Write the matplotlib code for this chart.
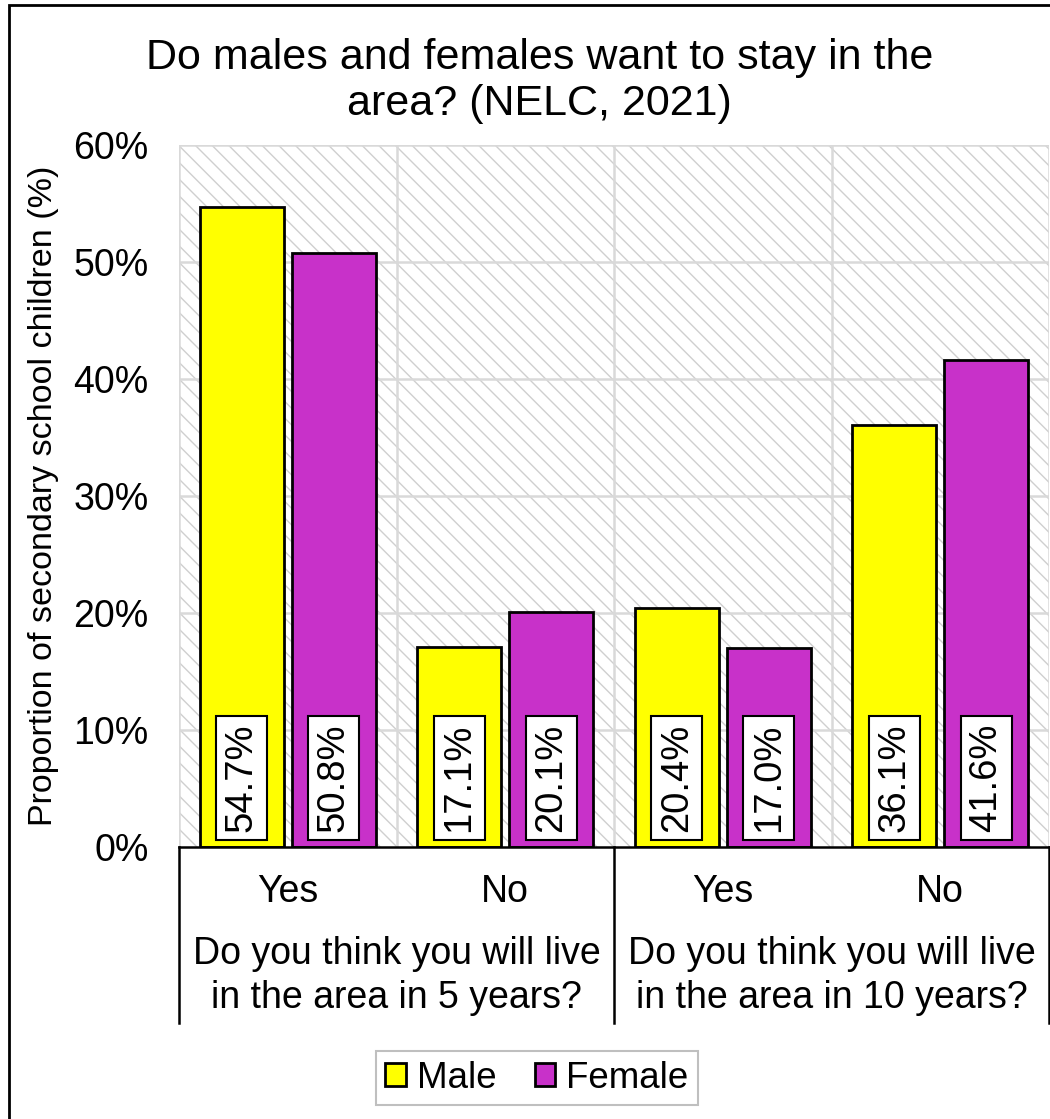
import numpy as np
import matplotlib
matplotlib.use("Agg")
import matplotlib.pyplot as plt
from matplotlib.patches import Rectangle
import matplotlib.transforms as mtransforms

plt.rcParams['font.family'] = ['Liberation Sans', 'DejaVu Sans']
plt.rcParams['hatch.linewidth'] = 1.0

# data
answers = ["Yes", "No", "Yes", "No"]
questions = ["Do you think you will live\nin the area in 5 years?",
             "Do you think you will live\nin the area in 10 years?"]
male = [54.7, 17.1, 20.4, 36.1]
female = [50.8, 20.1, 17.0, 41.6]
series_names = ["Male", "Female"]
colors = ["#ffff00", "#c831c9"]
yticks = [0, 10, 20, 30, 40, 50, 60]

fig = plt.figure(figsize=(10.5, 11.19), dpi=100)
ax = fig.add_axes([179 / 1050, 272 / 1119, 870 / 1050, 702 / 1119])

# hatched background
ax.add_patch(Rectangle((0, 0), 1, 1, transform=ax.transAxes, facecolor="white",
                       edgecolor="#cfcfcf", hatch="\\\\", lw=0, zorder=0))
ax.patch.set_visible(False)

x = np.arange(len(answers))
w = 0.386
off = 0.2115
for vals, name, c, dx in zip([male, female], series_names, colors, [-off, off]):
    ax.bar(x + dx, vals, width=w, color=c, edgecolor="black", linewidth=2,
           label=name, zorder=3)
    for xi, v in zip(x + dx, vals):
        ax.text(xi, 5.9, f"{v:.1f}%", rotation=90, ha="center", va="center",
                fontsize=27.5, zorder=4,
                bbox=dict(boxstyle="square,pad=0.2", fc="white", ec="black", lw=1.5))

ax.set_xlim(-0.5, 3.5)
ax.set_ylim(0, 60)
ax.set_yticks(yticks)
ax.set_yticklabels([f"{t}%" for t in yticks], fontsize=27)
ax.tick_params(axis="y", length=0, pad=22)
ax.set_xticks([])

# grid
for t in yticks[1:]:
    ax.axhline(t, color="#d9d9d9", lw=1.8, zorder=1)
for b in [-0.5, 0.5, 1.5, 2.5, 3.5]:
    ax.axvline(b, color="#d9d9d9", lw=1.8, zorder=1)

for s in ["left", "right", "top"]:
    ax.spines[s].set_visible(False)
ax.spines["bottom"].set_linewidth(1.8)
ax.spines["bottom"].set_zorder(5)

ax.set_ylabel("Proportion of secondary school children (%)", fontsize=24.5)
ax.yaxis.set_label_coords(-0.138, 0.5)

# multi-level category axis
trans = mtransforms.blended_transform_factory(ax.transData, ax.transAxes)
for xi, a in zip(x, answers):
    ax.text(xi, -0.064, a, transform=trans, ha="center", va="center", fontsize=27)
for gi, q in enumerate(questions):
    ax.text(gi * 2 + 0.5, -0.184, q, transform=trans, ha="center", va="center",
            fontsize=27, linespacing=1.3)
for b in [-0.5, 1.5, 3.5]:
    ax.plot([b, b], [0, -0.2507], transform=trans, color="black", lw=1.8,
            clip_on=False, zorder=5)

fig.text(0.514, 1 - 81 / 1119, "Do males and females want to stay in the\narea? (NELC, 2021)",
         ha="center", va="center", fontsize=31, linespacing=1.18)

leg = ax.legend(loc="center", bbox_to_anchor=(537 / 1050, 1 - 1078 / 1119),
                bbox_transform=fig.transFigure, ncol=2, fontsize=26.5,
                handlelength=0.55, handleheight=0.55, handletextpad=0.3,
                columnspacing=1.05, fancybox=False, framealpha=1,
                borderpad=0.25, borderaxespad=0)
leg.get_frame().set_edgecolor("#bfbfbf")
leg.get_frame().set_linewidth(1.5)

# outer chart border
fig.patches.append(Rectangle((9 / 1050, -0.1), 1.2, 1.1 - 5 / 1119,
                             transform=fig.transFigure, fill=False,
                             edgecolor="black", lw=2))

fig.savefig("out.png", dpi=100)
